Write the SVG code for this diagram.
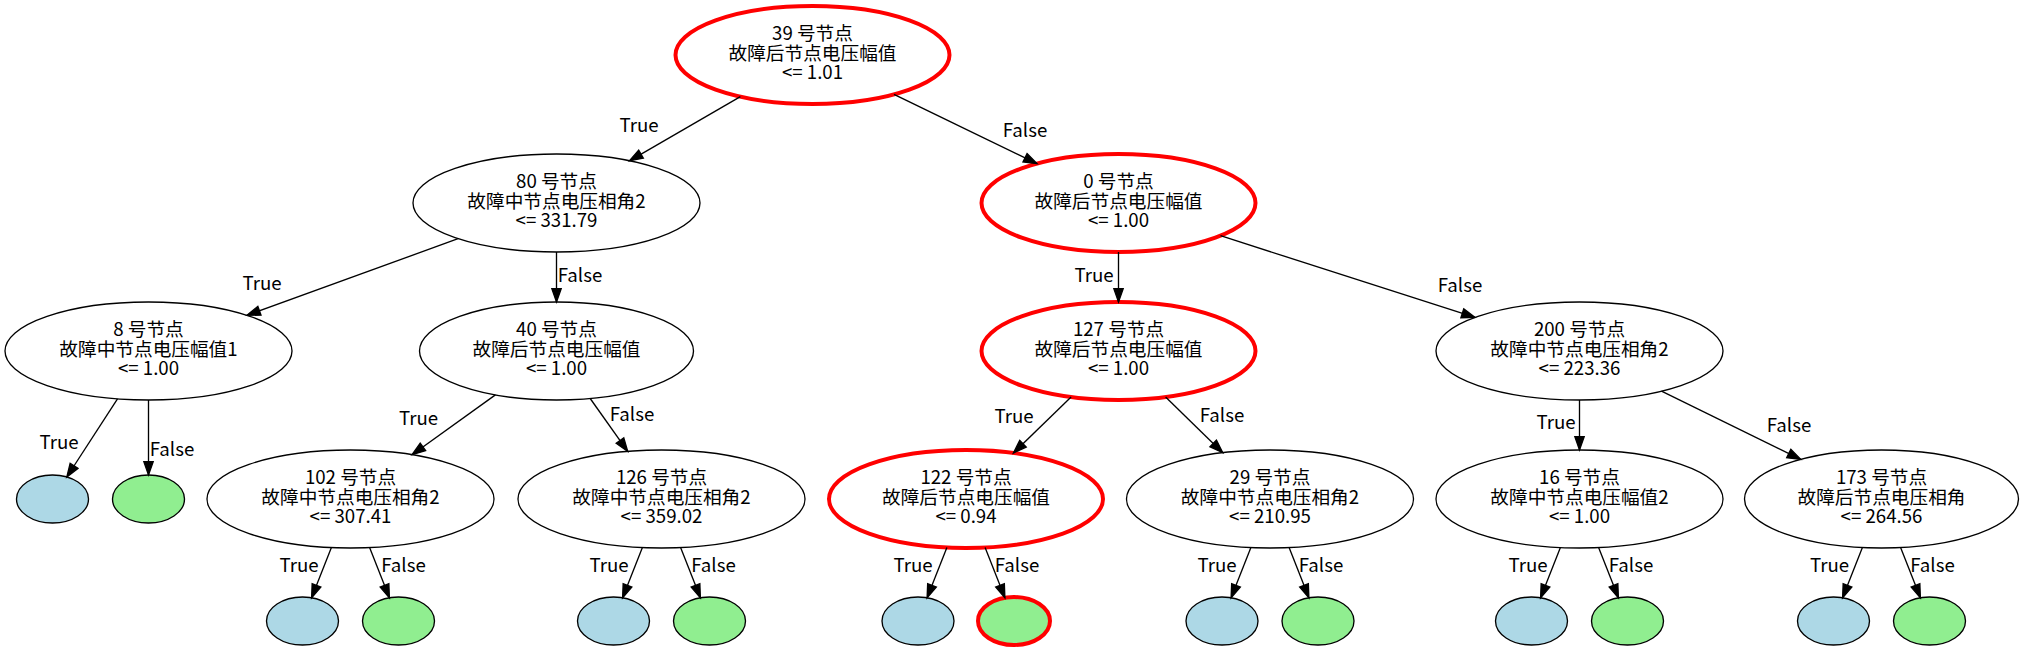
<svg xmlns="http://www.w3.org/2000/svg" width="2027" height="650" viewBox="0 0 2027 650">
<style>
  .bg { fill: #ffffff; }
  .n ellipse { fill: #ffffff; stroke: #000000; stroke-width: 1.33; }
  .n ellipse.hl, .lf ellipse.hl { stroke: #ff0000; stroke-width: 4; }
  .lf ellipse { stroke: #000000; stroke-width: 1.33; }
  .lf ellipse.t { fill: #add8e6; }
  .lf ellipse.f { fill: #90ee90; }
  text { font-family: "Noto Sans CJK SC", "Noto Sans", sans-serif; font-size: 18.67px; fill: #000000; text-anchor: middle; }
  .e path { fill: none; stroke: #000000; stroke-width: 1.33; marker-end: url(#arr); }
</style>
<defs>
  <marker id="arr" markerUnits="userSpaceOnUse" markerWidth="16" markerHeight="12" refX="13.33" refY="4.67" orient="auto" overflow="visible">
    <path d="M0,0 L13.33,4.67 L0,9.33 Z" fill="#000000" stroke="#000000" stroke-width="1.33" stroke-linejoin="miter"/>
  </marker>
</defs>
<rect class="bg" x="0" y="0" width="2027" height="650"/>

<!-- rank 0 -->
<g id="node39" class="n">
  <ellipse class="hl" cx="812.5" cy="55" rx="137" ry="49"/>
  <text x="812.5" y="40">39 号节点<tspan x="812.5" dy="19.5">故障后节点电压幅值</tspan><tspan x="812.5" dy="19.5">&lt;= 1.01</tspan></text>
</g>

<!-- rank 1 -->
<g id="node80" class="n">
  <ellipse cx="556.5" cy="203" rx="143.5" ry="49"/>
  <text x="556.5" y="188">80 号节点<tspan x="556.5" dy="19.5">故障中节点电压相角2</tspan><tspan x="556.5" dy="19.5">&lt;= 331.79</tspan></text>
</g>
<g id="node0" class="n">
  <ellipse class="hl" cx="1118.5" cy="203" rx="137" ry="49"/>
  <text x="1118.5" y="188">0 号节点<tspan x="1118.5" dy="19.5">故障后节点电压幅值</tspan><tspan x="1118.5" dy="19.5">&lt;= 1.00</tspan></text>
</g>

<!-- rank 2 -->
<g id="node8" class="n">
  <ellipse cx="148.5" cy="351" rx="143.5" ry="49"/>
  <text x="148.5" y="336">8 号节点<tspan x="148.5" dy="19.5">故障中节点电压幅值1</tspan><tspan x="148.5" dy="19.5">&lt;= 1.00</tspan></text>
</g>
<g id="node40" class="n">
  <ellipse cx="556.5" cy="351" rx="137" ry="49"/>
  <text x="556.5" y="336">40 号节点<tspan x="556.5" dy="19.5">故障后节点电压幅值</tspan><tspan x="556.5" dy="19.5">&lt;= 1.00</tspan></text>
</g>
<g id="node127" class="n">
  <ellipse class="hl" cx="1118.5" cy="351" rx="137" ry="49"/>
  <text x="1118.5" y="336">127 号节点<tspan x="1118.5" dy="19.5">故障后节点电压幅值</tspan><tspan x="1118.5" dy="19.5">&lt;= 1.00</tspan></text>
</g>
<g id="node200" class="n">
  <ellipse cx="1579.5" cy="351" rx="143.5" ry="49"/>
  <text x="1579.5" y="336">200 号节点<tspan x="1579.5" dy="19.5">故障中节点电压相角2</tspan><tspan x="1579.5" dy="19.5">&lt;= 223.36</tspan></text>
</g>

<!-- rank 3 -->
<g id="leaf8t" class="lf"><ellipse class="t" cx="52.5" cy="499" rx="36" ry="24"/></g>
<g id="leaf8f" class="lf"><ellipse class="f" cx="148.5" cy="499" rx="36" ry="24"/></g>
<g id="node102" class="n">
  <ellipse cx="350.5" cy="499" rx="143.5" ry="49"/>
  <text x="350.5" y="484">102 号节点<tspan x="350.5" dy="19.5">故障中节点电压相角2</tspan><tspan x="350.5" dy="19.5">&lt;= 307.41</tspan></text>
</g>
<g id="node126" class="n">
  <ellipse cx="661.5" cy="499" rx="143.5" ry="49"/>
  <text x="661.5" y="484">126 号节点<tspan x="661.5" dy="19.5">故障中节点电压相角2</tspan><tspan x="661.5" dy="19.5">&lt;= 359.02</tspan></text>
</g>
<g id="node122" class="n">
  <ellipse class="hl" cx="966" cy="499" rx="137" ry="49"/>
  <text x="966" y="484">122 号节点<tspan x="966" dy="19.5">故障后节点电压幅值</tspan><tspan x="966" dy="19.5">&lt;= 0.94</tspan></text>
</g>
<g id="node29" class="n">
  <ellipse cx="1270" cy="499" rx="143.5" ry="49"/>
  <text x="1270" y="484">29 号节点<tspan x="1270" dy="19.5">故障中节点电压相角2</tspan><tspan x="1270" dy="19.5">&lt;= 210.95</tspan></text>
</g>
<g id="node16" class="n">
  <ellipse cx="1579.5" cy="499" rx="143.5" ry="49"/>
  <text x="1579.5" y="484">16 号节点<tspan x="1579.5" dy="19.5">故障中节点电压幅值2</tspan><tspan x="1579.5" dy="19.5">&lt;= 1.00</tspan></text>
</g>
<g id="node173" class="n">
  <ellipse cx="1881.5" cy="499" rx="137" ry="49"/>
  <text x="1881.5" y="484">173 号节点<tspan x="1881.5" dy="19.5">故障后节点电压相角</tspan><tspan x="1881.5" dy="19.5">&lt;= 264.56</tspan></text>
</g>

<!-- rank 4 leaves -->
<g id="leaf102t" class="lf"><ellipse class="t" cx="302.5" cy="621" rx="36" ry="24"/></g>
<g id="leaf102f" class="lf"><ellipse class="f" cx="398.5" cy="621" rx="36" ry="24"/></g>
<g id="leaf126t" class="lf"><ellipse class="t" cx="613.5" cy="621" rx="36" ry="24"/></g>
<g id="leaf126f" class="lf"><ellipse class="f" cx="709.5" cy="621" rx="36" ry="24"/></g>
<g id="leaf122t" class="lf"><ellipse class="t" cx="918" cy="621" rx="36" ry="24"/></g>
<g id="leaf122f" class="lf"><ellipse class="f hl" cx="1014" cy="621" rx="36" ry="24"/></g>
<g id="leaf29t" class="lf"><ellipse class="t" cx="1222" cy="621" rx="36" ry="24"/></g>
<g id="leaf29f" class="lf"><ellipse class="f" cx="1318" cy="621" rx="36" ry="24"/></g>
<g id="leaf16t" class="lf"><ellipse class="t" cx="1531.5" cy="621" rx="36" ry="24"/></g>
<g id="leaf16f" class="lf"><ellipse class="f" cx="1627.5" cy="621" rx="36" ry="24"/></g>
<g id="leaf173t" class="lf"><ellipse class="t" cx="1833.5" cy="621" rx="36" ry="24"/></g>
<g id="leaf173f" class="lf"><ellipse class="f" cx="1929.5" cy="621" rx="36" ry="24"/></g>

<!-- connectors -->
<g id="connectors" class="e">
  <path d="M740.4,96.7 L629.5,160.8"/>
  <path d="M894,94.4 L1037,163.6"/>
  <path d="M458.1,238.7 L246.9,315.3"/>
  <path d="M556.5,252 L556.5,302"/>
  <path d="M1118.5,252 L1118.5,302"/>
  <path d="M1220.5,235.7 L1475,317.4"/>
  <path d="M117.5,398.8 L66.8,477"/>
  <path d="M148.5,400 L148.5,475"/>
  <path d="M495.4,394.9 L412.1,454.7"/>
  <path d="M590.2,398.5 L627.7,451.4"/>
  <path d="M1071.1,397 L1013.4,453"/>
  <path d="M1165.6,397 L1222.7,452.7"/>
  <path d="M1579.5,400 L1579.5,450"/>
  <path d="M1661.5,391.2 L1800.7,459.4"/>
  <path d="M331.4,547.6 L311.6,597.8"/>
  <path d="M369.6,547.6 L389.4,597.8"/>
  <path d="M642.4,547.6 L622.6,597.8"/>
  <path d="M680.6,547.6 L700.4,597.8"/>
  <path d="M946.9,547.6 L927.1,597.8"/>
  <path d="M985.1,547.6 L1004.9,597.8"/>
  <path d="M1250.9,547.6 L1231.1,597.8"/>
  <path d="M1289.1,547.6 L1308.9,597.8"/>
  <path d="M1560.4,547.6 L1540.6,597.8"/>
  <path d="M1598.6,547.6 L1618.4,597.8"/>
  <path d="M1862.4,547.6 L1842.6,597.8"/>
  <path d="M1900.6,547.6 L1920.4,597.8"/>
  <text x="639" y="132">True</text>
  <text x="1025" y="137">False</text>
  <text x="262" y="290">True</text>
  <text x="580" y="282">False</text>
  <text x="1094" y="282">True</text>
  <text x="1460" y="292">False</text>
  <text x="59" y="449">True</text>
  <text x="172" y="456">False</text>
  <text x="418.5" y="425">True</text>
  <text x="632" y="421">False</text>
  <text x="1014" y="423">True</text>
  <text x="1222" y="422">False</text>
  <text x="1556" y="429">True</text>
  <text x="1789" y="432">False</text>
  <text x="299" y="572">True</text>
  <text x="403.5" y="572">False</text>
  <text x="609" y="572">True</text>
  <text x="713.5" y="572">False</text>
  <text x="913" y="572">True</text>
  <text x="1017" y="572">False</text>
  <text x="1217" y="572">True</text>
  <text x="1321" y="572">False</text>
  <text x="1528" y="572">True</text>
  <text x="1631" y="572">False</text>
  <text x="1829.5" y="572">True</text>
  <text x="1932.5" y="572">False</text>
</g>
</svg>
